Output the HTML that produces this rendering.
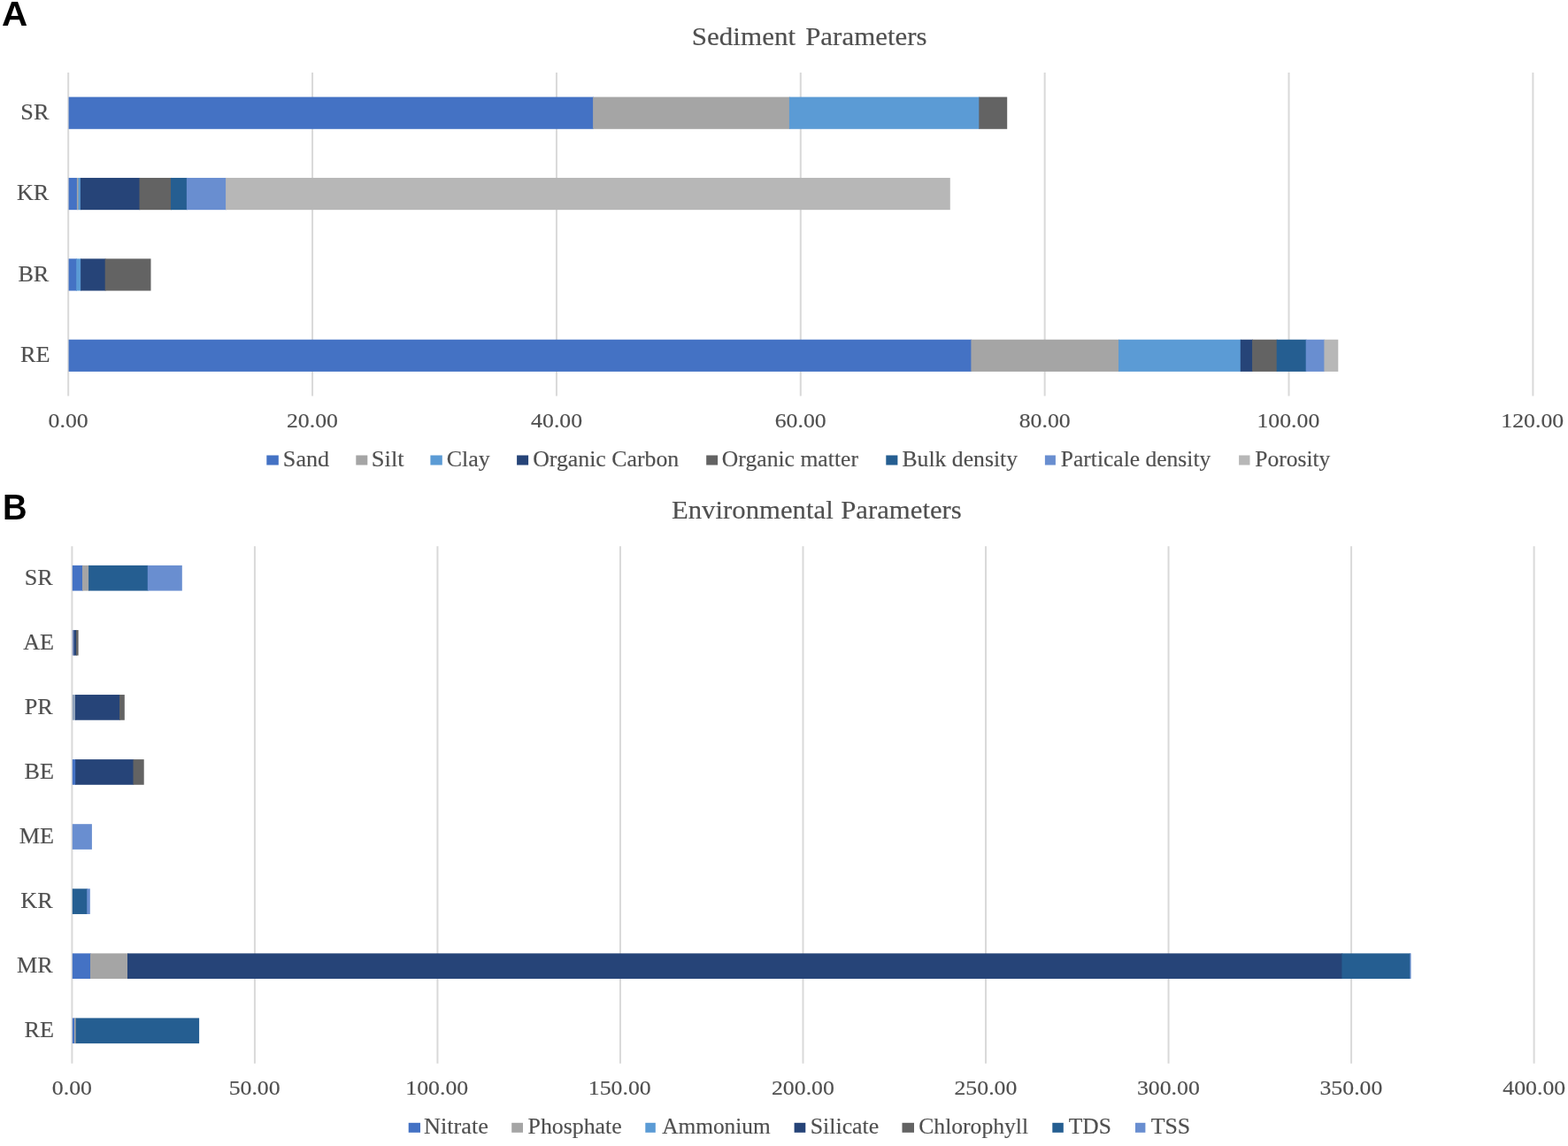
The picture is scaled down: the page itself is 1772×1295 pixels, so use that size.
<!DOCTYPE html><html><head><meta charset="utf-8"><title>Sediment and Environmental Parameters</title><style>html,body{margin:0;padding:0;background:#fff;}svg{display:block;filter:blur(0.45px);}</style></head><body>
<svg width="1772" height="1295" viewBox="0 0 1772 1295">
<rect width="1772" height="1295" fill="#fff"/>
<g stroke="#d9d9d9" stroke-width="2">
<line x1="77.20" y1="82.0" x2="77.20" y2="447.5"/>
<line x1="353.07" y1="82.0" x2="353.07" y2="447.5"/>
<line x1="628.93" y1="82.0" x2="628.93" y2="447.5"/>
<line x1="904.80" y1="82.0" x2="904.80" y2="447.5"/>
<line x1="1180.66" y1="82.0" x2="1180.66" y2="447.5"/>
<line x1="1456.53" y1="82.0" x2="1456.53" y2="447.5"/>
<line x1="1732.40" y1="82.0" x2="1732.40" y2="447.5"/>
<line x1="81.40" y1="617.2" x2="81.40" y2="1201.8"/>
<line x1="287.92" y1="617.2" x2="287.92" y2="1201.8"/>
<line x1="494.45" y1="617.2" x2="494.45" y2="1201.8"/>
<line x1="700.97" y1="617.2" x2="700.97" y2="1201.8"/>
<line x1="907.50" y1="617.2" x2="907.50" y2="1201.8"/>
<line x1="1114.03" y1="617.2" x2="1114.03" y2="1201.8"/>
<line x1="1320.55" y1="617.2" x2="1320.55" y2="1201.8"/>
<line x1="1527.08" y1="617.2" x2="1527.08" y2="1201.8"/>
<line x1="1733.60" y1="617.2" x2="1733.60" y2="1201.8"/>
</g>
<rect x="77.60" y="109.59" width="593.30" height="36.20" fill="#4472C4"/>
<rect x="670.10" y="109.59" width="222.60" height="36.20" fill="#A5A5A5"/>
<rect x="891.90" y="109.59" width="215.20" height="36.20" fill="#5B9BD5"/>
<rect x="1106.30" y="109.59" width="31.90" height="36.20" fill="#636363"/>
<rect x="77.60" y="200.96" width="10.10" height="36.20" fill="#4472C4"/>
<rect x="86.90" y="200.96" width="2.40" height="36.20" fill="#A5A5A5"/>
<rect x="88.50" y="200.96" width="3.20" height="36.20" fill="#5B9BD5"/>
<rect x="90.90" y="200.96" width="67.40" height="36.20" fill="#264478"/>
<rect x="157.50" y="200.96" width="36.30" height="36.20" fill="#636363"/>
<rect x="193.00" y="200.96" width="18.70" height="36.20" fill="#255E91"/>
<rect x="210.90" y="200.96" width="45.00" height="36.20" fill="#698ED0"/>
<rect x="255.10" y="200.96" width="818.70" height="36.20" fill="#B7B7B7"/>
<rect x="77.60" y="292.34" width="9.40" height="36.20" fill="#4472C4"/>
<rect x="86.20" y="292.34" width="5.70" height="36.20" fill="#5B9BD5"/>
<rect x="91.10" y="292.34" width="28.40" height="36.20" fill="#264478"/>
<rect x="118.70" y="292.34" width="51.80" height="36.20" fill="#636363"/>
<rect x="77.60" y="383.71" width="1020.60" height="36.20" fill="#4472C4"/>
<rect x="1097.40" y="383.71" width="167.40" height="36.20" fill="#A5A5A5"/>
<rect x="1264.00" y="383.71" width="138.60" height="36.20" fill="#5B9BD5"/>
<rect x="1401.80" y="383.71" width="14.10" height="36.20" fill="#264478"/>
<rect x="1415.10" y="383.71" width="28.40" height="36.20" fill="#636363"/>
<rect x="1442.70" y="383.71" width="33.80" height="36.20" fill="#255E91"/>
<rect x="1475.70" y="383.71" width="21.50" height="36.20" fill="#698ED0"/>
<rect x="1496.40" y="383.71" width="15.90" height="36.20" fill="#B7B7B7"/>
<rect x="81.80" y="638.89" width="12.00" height="28.70" fill="#4472C4"/>
<rect x="93.00" y="638.89" width="7.90" height="28.70" fill="#A5A5A5"/>
<rect x="100.10" y="638.89" width="67.50" height="28.70" fill="#255E91"/>
<rect x="166.80" y="638.89" width="39.00" height="28.70" fill="#698ED0"/>
<rect x="81.80" y="711.96" width="2.50" height="28.70" fill="#7c8fbd"/>
<rect x="83.50" y="711.96" width="3.30" height="28.70" fill="#264478"/>
<rect x="86.00" y="711.96" width="2.60" height="28.70" fill="#636363"/>
<rect x="81.80" y="785.04" width="4.00" height="28.70" fill="#90a2ba"/>
<rect x="85.00" y="785.04" width="50.80" height="28.70" fill="#264478"/>
<rect x="135.00" y="785.04" width="5.80" height="28.70" fill="#636363"/>
<rect x="81.80" y="858.11" width="4.20" height="28.70" fill="#4472C4"/>
<rect x="85.20" y="858.11" width="66.10" height="28.70" fill="#264478"/>
<rect x="150.50" y="858.11" width="12.20" height="28.70" fill="#636363"/>
<rect x="81.80" y="931.19" width="22.10" height="28.70" fill="#698ED0"/>
<rect x="81.80" y="1004.26" width="17.20" height="28.70" fill="#255E91"/>
<rect x="98.20" y="1004.26" width="3.60" height="28.70" fill="#698ED0"/>
<rect x="81.80" y="1077.34" width="21.00" height="28.70" fill="#4472C4"/>
<rect x="102.00" y="1077.34" width="42.80" height="28.70" fill="#A5A5A5"/>
<rect x="144.00" y="1077.34" width="1373.20" height="28.70" fill="#264478"/>
<rect x="1516.40" y="1077.34" width="77.70" height="28.70" fill="#255E91"/>
<rect x="1593.30" y="1077.34" width="1.20" height="28.70" fill="#698ED0"/>
<rect x="81.80" y="1150.41" width="3.00" height="28.70" fill="#4472C4"/>
<rect x="84.00" y="1150.41" width="2.40" height="28.70" fill="#A5A5A5"/>
<rect x="85.60" y="1150.41" width="139.50" height="28.70" fill="#255E91"/>
<rect x="301.3" y="514.5" width="13.50" height="11" fill="#4472C4"/>
<rect x="402.3" y="514.5" width="13.00" height="11" fill="#A5A5A5"/>
<rect x="486.4" y="514.5" width="13.40" height="11" fill="#5B9BD5"/>
<rect x="584.1" y="514.5" width="13.00" height="11" fill="#264478"/>
<rect x="798.2" y="514.5" width="12.90" height="11" fill="#636363"/>
<rect x="1001.3" y="514.5" width="13.10" height="11" fill="#255E91"/>
<rect x="1180.9" y="514.5" width="12.00" height="11" fill="#698ED0"/>
<rect x="1400.1" y="514.5" width="12.40" height="11" fill="#B7B7B7"/>
<rect x="461.7" y="1268.8" width="13.30" height="11" fill="#4472C4"/>
<rect x="578.2" y="1268.8" width="12.80" height="11" fill="#A5A5A5"/>
<rect x="729.3" y="1268.8" width="11.50" height="11" fill="#5B9BD5"/>
<rect x="897.6" y="1268.8" width="12.70" height="11" fill="#264478"/>
<rect x="1019.5" y="1268.8" width="13.50" height="11" fill="#636363"/>
<rect x="1189.3" y="1268.8" width="12.50" height="11" fill="#255E91"/>
<rect x="1283.0" y="1268.8" width="11.40" height="11" fill="#698ED0"/>
<text transform="translate(1.91 29.4) scale(1.0354 1)" font-family="Liberation Sans, sans-serif" font-weight="bold" font-size="39.1" fill="#000">A</text>
<text transform="translate(2.95 586.8) scale(0.9502 1)" font-family="Liberation Sans, sans-serif" font-weight="bold" font-size="40.2" fill="#000">B</text>
<text transform="translate(781.76 50.5) scale(1.0907 1)" font-family="Liberation Serif, serif" font-size="28.5" fill="#4f4f4f" stroke="#4f4f4f" stroke-width="0.15">Sediment</text>
<text transform="translate(910.15 50.5) scale(1.0862 1)" font-family="Liberation Serif, serif" font-size="28.5" fill="#4f4f4f" stroke="#4f4f4f" stroke-width="0.15">Parameters</text>
<text transform="translate(758.96 586.0) scale(1.0792 1)" font-family="Liberation Serif, serif" font-size="28.5" fill="#4f4f4f" stroke="#4f4f4f" stroke-width="0.15">Environmental</text>
<text transform="translate(950.16 586.0) scale(1.0798 1)" font-family="Liberation Serif, serif" font-size="28.5" fill="#4f4f4f" stroke="#4f4f4f" stroke-width="0.15">Parameters</text>
<text transform="translate(23.33 134.8875) scale(1.0700 1)" font-family="Liberation Serif, serif" font-size="24.5" fill="#4f4f4f" stroke="#4f4f4f" stroke-width="0.15">SR</text>
<text transform="translate(18.92 226.2625) scale(1.0700 1)" font-family="Liberation Serif, serif" font-size="24.5" fill="#4f4f4f" stroke="#4f4f4f" stroke-width="0.15">KR</text>
<text transform="translate(20.39 317.6375) scale(1.0700 1)" font-family="Liberation Serif, serif" font-size="24.5" fill="#4f4f4f" stroke="#4f4f4f" stroke-width="0.15">BR</text>
<text transform="translate(23.07 409.0125) scale(1.0700 1)" font-family="Liberation Serif, serif" font-size="24.5" fill="#4f4f4f" stroke="#4f4f4f" stroke-width="0.15">RE</text>
<text transform="translate(54.62 483.2) scale(1.0750 1)" font-family="Liberation Serif, serif" font-size="24" fill="#4f4f4f" stroke="#4f4f4f" stroke-width="0.15">0.00</text>
<text transform="translate(323.97 483.2) scale(1.0750 1)" font-family="Liberation Serif, serif" font-size="24" fill="#4f4f4f" stroke="#4f4f4f" stroke-width="0.15">20.00</text>
<text transform="translate(600.11 483.2) scale(1.0750 1)" font-family="Liberation Serif, serif" font-size="24" fill="#4f4f4f" stroke="#4f4f4f" stroke-width="0.15">40.00</text>
<text transform="translate(875.71 483.2) scale(1.0750 1)" font-family="Liberation Serif, serif" font-size="24" fill="#4f4f4f" stroke="#4f4f4f" stroke-width="0.15">60.00</text>
<text transform="translate(1151.64 483.2) scale(1.0750 1)" font-family="Liberation Serif, serif" font-size="24" fill="#4f4f4f" stroke="#4f4f4f" stroke-width="0.15">80.00</text>
<text transform="translate(1420.38 483.2) scale(1.0750 1)" font-family="Liberation Serif, serif" font-size="24" fill="#4f4f4f" stroke="#4f4f4f" stroke-width="0.15">100.00</text>
<text transform="translate(1696.25 483.2) scale(1.0750 1)" font-family="Liberation Serif, serif" font-size="24" fill="#4f4f4f" stroke="#4f4f4f" stroke-width="0.15">120.00</text>
<text transform="translate(319.87 526.5) scale(1.0653 1)" font-family="Liberation Serif, serif" font-size="24.5" fill="#4f4f4f" stroke="#4f4f4f" stroke-width="0.15">Sand</text>
<text transform="translate(419.74 526.5) scale(1.0853 1)" font-family="Liberation Serif, serif" font-size="24.5" fill="#4f4f4f" stroke="#4f4f4f" stroke-width="0.15">Silt</text>
<text transform="translate(504.64 526.5) scale(1.0615 1)" font-family="Liberation Serif, serif" font-size="24.5" fill="#4f4f4f" stroke="#4f4f4f" stroke-width="0.15">Clay</text>
<text transform="translate(602.15 526.5) scale(1.0542 1)" font-family="Liberation Serif, serif" font-size="24.5" fill="#4f4f4f" stroke="#4f4f4f" stroke-width="0.15">Organic Carbon</text>
<text transform="translate(815.85 526.5) scale(1.0473 1)" font-family="Liberation Serif, serif" font-size="24.5" fill="#4f4f4f" stroke="#4f4f4f" stroke-width="0.15">Organic matter</text>
<text transform="translate(1019.41 526.5) scale(1.0491 1)" font-family="Liberation Serif, serif" font-size="24.5" fill="#4f4f4f" stroke="#4f4f4f" stroke-width="0.15">Bulk density</text>
<text transform="translate(1198.82 526.5) scale(1.0423 1)" font-family="Liberation Serif, serif" font-size="24.5" fill="#4f4f4f" stroke="#4f4f4f" stroke-width="0.15">Particale density</text>
<text transform="translate(1418.22 526.5) scale(1.0436 1)" font-family="Liberation Serif, serif" font-size="24.5" fill="#4f4f4f" stroke="#4f4f4f" stroke-width="0.15">Porosity</text>
<text transform="translate(27.73 660.7375000000001) scale(1.0700 1)" font-family="Liberation Serif, serif" font-size="24.5" fill="#4f4f4f" stroke="#4f4f4f" stroke-width="0.15">SR</text>
<text transform="translate(26.13 733.8125) scale(1.0700 1)" font-family="Liberation Serif, serif" font-size="24.5" fill="#4f4f4f" stroke="#4f4f4f" stroke-width="0.15">AE</text>
<text transform="translate(27.73 806.8875) scale(1.0700 1)" font-family="Liberation Serif, serif" font-size="24.5" fill="#4f4f4f" stroke="#4f4f4f" stroke-width="0.15">PR</text>
<text transform="translate(27.47 879.9625) scale(1.0700 1)" font-family="Liberation Serif, serif" font-size="24.5" fill="#4f4f4f" stroke="#4f4f4f" stroke-width="0.15">BE</text>
<text transform="translate(21.72 953.0375) scale(1.0700 1)" font-family="Liberation Serif, serif" font-size="24.5" fill="#4f4f4f" stroke="#4f4f4f" stroke-width="0.15">ME</text>
<text transform="translate(23.32 1026.1125) scale(1.0700 1)" font-family="Liberation Serif, serif" font-size="24.5" fill="#4f4f4f" stroke="#4f4f4f" stroke-width="0.15">KR</text>
<text transform="translate(18.91 1099.1875) scale(1.0700 1)" font-family="Liberation Serif, serif" font-size="24.5" fill="#4f4f4f" stroke="#4f4f4f" stroke-width="0.15">MR</text>
<text transform="translate(27.47 1172.2624999999998) scale(1.0700 1)" font-family="Liberation Serif, serif" font-size="24.5" fill="#4f4f4f" stroke="#4f4f4f" stroke-width="0.15">RE</text>
<text transform="translate(58.83 1237.4) scale(1.0750 1)" font-family="Liberation Serif, serif" font-size="24" fill="#4f4f4f" stroke="#4f4f4f" stroke-width="0.15">0.00</text>
<text transform="translate(258.63 1237.4) scale(1.0750 1)" font-family="Liberation Serif, serif" font-size="24" fill="#4f4f4f" stroke="#4f4f4f" stroke-width="0.15">50.00</text>
<text transform="translate(458.30 1237.4) scale(1.0750 1)" font-family="Liberation Serif, serif" font-size="24" fill="#4f4f4f" stroke="#4f4f4f" stroke-width="0.15">100.00</text>
<text transform="translate(664.83 1237.4) scale(1.0750 1)" font-family="Liberation Serif, serif" font-size="24" fill="#4f4f4f" stroke="#4f4f4f" stroke-width="0.15">150.00</text>
<text transform="translate(871.96 1237.4) scale(1.0750 1)" font-family="Liberation Serif, serif" font-size="24" fill="#4f4f4f" stroke="#4f4f4f" stroke-width="0.15">200.00</text>
<text transform="translate(1078.48 1237.4) scale(1.0750 1)" font-family="Liberation Serif, serif" font-size="24" fill="#4f4f4f" stroke="#4f4f4f" stroke-width="0.15">250.00</text>
<text transform="translate(1284.94 1237.4) scale(1.0750 1)" font-family="Liberation Serif, serif" font-size="24" fill="#4f4f4f" stroke="#4f4f4f" stroke-width="0.15">300.00</text>
<text transform="translate(1491.47 1237.4) scale(1.0750 1)" font-family="Liberation Serif, serif" font-size="24" fill="#4f4f4f" stroke="#4f4f4f" stroke-width="0.15">350.00</text>
<text transform="translate(1698.33 1237.4) scale(1.0750 1)" font-family="Liberation Serif, serif" font-size="24" fill="#4f4f4f" stroke="#4f4f4f" stroke-width="0.15">400.00</text>
<text transform="translate(479.00 1281.0) scale(1.0712 1)" font-family="Liberation Serif, serif" font-size="24.5" fill="#4f4f4f" stroke="#4f4f4f" stroke-width="0.15">Nitrate</text>
<text transform="translate(596.51 1281.0) scale(1.0552 1)" font-family="Liberation Serif, serif" font-size="24.5" fill="#4f4f4f" stroke="#4f4f4f" stroke-width="0.15">Phosphate</text>
<text transform="translate(748.14 1281.0) scale(1.0352 1)" font-family="Liberation Serif, serif" font-size="24.5" fill="#4f4f4f" stroke="#4f4f4f" stroke-width="0.15">Ammonium</text>
<text transform="translate(915.68 1281.0) scale(1.0563 1)" font-family="Liberation Serif, serif" font-size="24.5" fill="#4f4f4f" stroke="#4f4f4f" stroke-width="0.15">Silicate</text>
<text transform="translate(1038.25 1281.0) scale(1.0462 1)" font-family="Liberation Serif, serif" font-size="24.5" fill="#4f4f4f" stroke="#4f4f4f" stroke-width="0.15">Chlorophyll</text>
<text transform="translate(1207.78 1281.0) scale(1.0395 1)" font-family="Liberation Serif, serif" font-size="24.5" fill="#4f4f4f" stroke="#4f4f4f" stroke-width="0.15">TDS</text>
<text transform="translate(1300.67 1281.0) scale(1.0559 1)" font-family="Liberation Serif, serif" font-size="24.5" fill="#4f4f4f" stroke="#4f4f4f" stroke-width="0.15">TSS</text>
</svg></body></html>
